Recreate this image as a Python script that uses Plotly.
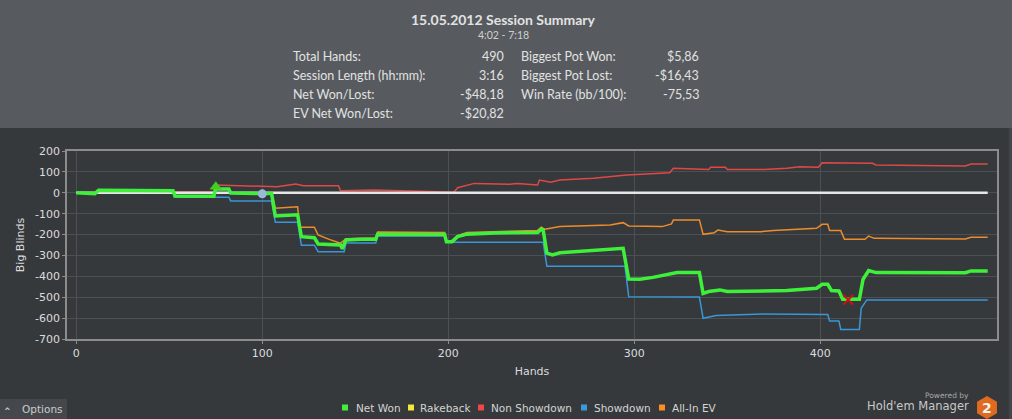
import math
import plotly.graph_objects as go

# ---------------- data ----------------
net_hands = [0, 10, 12, 52, 53, 74, 75, 76, 82, 83, 100, 105, 107, 119, 121, 128, 130, 142, 143, 145,
             153, 161, 162, 198, 199, 202, 205, 210, 225, 248, 250, 251, 253, 256, 260, 294, 297, 303,
             310, 321, 323, 335, 337, 340, 346, 350, 360, 382, 398, 401, 404, 406, 410, 412, 421, 423,
             426, 430, 478, 481, 490]
net_vals = [0, -4, 12, 10, -15, -17, 29, 18, 18, -1, -4, -4, -111, -105, -210, -215, -245, -250, -268, -226,
            -223, -222, -198, -200, -234, -234, -210, -198, -192, -190, -174, -178, -289, -297, -287, -266, -413, -414,
            -405, -385, -382, -382, -482, -473, -465, -473, -472, -468, -457, -438, -438, -468, -470, -510, -510, -414,
            -372, -382, -383, -374, -374]

sd_hands = [0, 10, 12, 52, 53, 82, 83, 105, 107, 119, 121, 128, 130, 144, 145, 161, 162, 198, 199, 251,
            253, 295, 297, 335, 337, 344, 369, 404, 405, 410, 411, 421, 422, 425, 490]
sd_vals = [0, -2, 3, 3, -21, -21, -39, -39, -141, -141, -251, -251, -282, -282, -240, -240, -207, -207, -237, -237,
           -352, -352, -498, -499, -601, -588, -580, -583, -614, -614, -654, -654, -553, -513, -513]

nsd_hands = [0, 52, 74, 75, 92, 100, 108, 118, 122, 141, 142, 160, 199, 203, 205, 214, 233, 237, 248, 249,
             255, 260, 278, 296, 319, 321, 340, 341, 349, 350, 370, 382, 389, 399, 401, 428, 430, 478, 481, 490]
nsd_vals = [0, 4, 5, 37, 32, 29, 29, 42, 34, 34, 10, 13, 5, 3, 24, 45, 41, 45, 37, 61,
            50, 61, 69, 85, 96, 117, 112, 122, 122, 112, 112, 117, 125, 122, 144, 141, 133, 128, 138, 138]

ev_hands = [0, 10, 12, 52, 53, 74, 75, 76, 82, 83, 105, 107, 119, 120, 128, 130, 136, 142, 145, 153,
            161, 162, 198, 199, 202, 205, 210, 248, 250, 252, 260, 287, 294, 297, 315, 320, 321, 335, 337, 343,
            345, 350, 368, 375, 389, 398, 401, 404, 405, 411, 413, 424, 426, 429, 478, 481, 490]
ev_vals = [0, -4, 12, 10, -15, -17, 29, 18, 18, -1, -4, -74, -67, -165, -165, -202, -223, -242, -220, -218,
           -216, -188, -190, -230, -230, -205, -190, -180, -165, -175, -162, -154, -143, -159, -162, -149, -130, -130, -199, -191,
           -178, -186, -186, -181, -175, -170, -151, -151, -181, -181, -223, -223, -207, -218, -221, -213, -213]

rakeback_hands = []
rakeback_vals = []

zero_hands = [0, 490]
zero_vals = [0, 0]

marker_tri = ([75], [29])
marker_circle = ([100], [-5])
marker_x = ([415], [-512])

y_ticks = [200, 100, 0, -100, -200, -300, -400, -500, -600, -700]
y_ticktext = ["200", "100", "0", "-100", "-200", "-300", "-400", "-500", "-600", "-700"]
x_ticks = [0, 100, 200, 300, 400]

title_text = "15.05.2012 Session Summary"
subtitle_text = "4:02 - 7:18"
stats_left = [("Total Hands:", "490"), ("Session Length (hh:mm):", "3:16"),
              ("Net Won/Lost:", "-$48,18"), ("EV Net Won/Lost:", "-$20,82")]
stats_right = [("Biggest Pot Won:", "$5,86"), ("Biggest Pot Lost:", "-$16,43"),
               ("Win Rate (bb/100):", "-75,53")]

legend_names = ["Net Won", "Rakeback", "Non Showdown", "Showdown", "All-In EV"]
legend_colors = ["#3ef03a", "#f2e83a", "#ee4848", "#3a9ae0", "#ff8c22"]

# ---------------- layout geometry helpers ----------------
W, H = 1012, 419
L, R, T, B = 67, 997, 151, 339


def px(x):
    return (x - L) / (R - L)


def py(y):
    return (B - y) / (B - T)


BG = "#35393c"
HEADER = "#575b5f"
TXT = "#e2e2e2"

fig = go.Figure()

fig.add_trace(go.Scatter(x=nsd_hands, y=nsd_vals, mode="lines", name="Non Showdown",
                         line=dict(color="#e04848", width=1.5), showlegend=False, hoverinfo="skip"))
fig.add_trace(go.Scatter(x=sd_hands, y=sd_vals, mode="lines", name="Showdown",
                         line=dict(color="#3a96d6", width=1.5), showlegend=False, hoverinfo="skip"))
fig.add_trace(go.Scatter(x=ev_hands, y=ev_vals, mode="lines", name="All-In EV",
                         line=dict(color="#ee8c2c", width=1.5), showlegend=False, hoverinfo="skip"))
fig.add_trace(go.Scatter(x=rakeback_hands, y=rakeback_vals, mode="lines", name="Rakeback",
                         line=dict(color="#f2e83a", width=1.5), showlegend=False, hoverinfo="skip"))
fig.add_trace(go.Scatter(x=zero_hands, y=zero_vals, mode="lines", line=dict(color="#e6e6e6", width=2.5),
                         showlegend=False, hoverinfo="skip"))
fig.add_trace(go.Scatter(x=net_hands, y=net_vals, mode="lines", name="Net Won",
                         line=dict(color="#3ef03a", width=3.5), showlegend=False, hoverinfo="skip"))
fig.add_trace(go.Scatter(x=marker_tri[0], y=marker_tri[1], mode="markers",
                         marker=dict(symbol="triangle-up", size=11, color="#44cc22"),
                         showlegend=False, hoverinfo="skip"))
fig.add_trace(go.Scatter(x=marker_circle[0], y=marker_circle[1], mode="markers",
                         marker=dict(symbol="circle", size=9, color="#9ab8d8"),
                         showlegend=False, hoverinfo="skip"))
fig.add_trace(go.Scatter(x=marker_x[0], y=marker_x[1], mode="markers",
                         marker=dict(symbol="x-thin", size=10, line=dict(color="#cc1111", width=2)),
                         showlegend=False, hoverinfo="skip"))

shapes = [
    dict(type="rect", xref="paper", yref="paper", x0=px(0), x1=px(W), y0=py(128), y1=py(0),
         fillcolor=HEADER, line=dict(width=0), layer="below"),
    dict(type="rect", xref="paper", yref="paper", x0=px(0), x1=px(67), y0=py(419), y1=py(399),
         fillcolor="#44484c", line=dict(width=0), layer="below"),
    dict(type="rect", xref="paper", yref="paper", x0=px(1009), x1=px(W), y0=py(419), y1=py(128),
         fillcolor="#42464a", line=dict(width=0), layer="below"),
]

# hexagon logo
cx, cy, r = 987, 407.5, 11.5
pts = []
for k in range(6):
    a = math.radians(90 + 60 * k)
    pts.append((px(cx + r * math.cos(a)), py(cy - r * math.sin(a))))
path = "M " + " L ".join(f"{x:.5f},{y:.5f}" for x, y in pts) + " Z"
shapes.append(dict(type="path", xref="paper", yref="paper", path=path, fillcolor="#e06a1e",
                   line=dict(width=0)))

annotations = [
    dict(text=f"<b>{title_text}</b>", x=px(503), y=py(19), xref="paper", yref="paper",
         showarrow=False, font=dict(family="Lato", size=14, color=TXT), xanchor="center", yanchor="middle"),
    dict(text=subtitle_text, x=px(503), y=py(35), xref="paper", yref="paper",
         showarrow=False, font=dict(family="Lato", size=10.5, color="#cfcfcf"), xanchor="center", yanchor="middle"),
]
rows_y = [56, 75, 94, 113]
for (lab, val), yy in zip(stats_left, rows_y):
    annotations.append(dict(text=lab, x=px(291), y=py(yy), xref="paper", yref="paper", showarrow=False,
                            font=dict(family="Lato", size=12.5, color=TXT), xanchor="left", yanchor="middle"))
    annotations.append(dict(text=val, x=px(506), y=py(yy), xref="paper", yref="paper", showarrow=False,
                            font=dict(family="Lato", size=12.5, color=TXT), xanchor="right", yanchor="middle"))
for (lab, val), yy in zip(stats_right, rows_y):
    annotations.append(dict(text=lab, x=px(519), y=py(yy), xref="paper", yref="paper", showarrow=False,
                            font=dict(family="Lato", size=12.5, color=TXT), xanchor="left", yanchor="middle"))
    annotations.append(dict(text=val, x=px(701), y=py(yy), xref="paper", yref="paper", showarrow=False,
                            font=dict(family="Lato", size=12.5, color=TXT), xanchor="right", yanchor="middle"))

# legend (square swatch + label), laid out like the original chart's legend row
legend_swatch_x = [342, 408, 478, 581, 659]
legend_text_x = [354, 418, 489, 592, 670]
legend_y = 407.5
for name, col, sx, tx in zip(legend_names, legend_colors, legend_swatch_x, legend_text_x):
    shapes.append(dict(type="rect", xref="paper", yref="paper", x0=px(sx), x1=px(sx + 6),
                       y0=py(legend_y + 3), y1=py(legend_y - 3), fillcolor=col, line=dict(width=0)))
    annotations.append(dict(text=name, x=px(tx), y=py(legend_y), xref="paper", yref="paper", showarrow=False,
                            font=dict(family="DejaVu Sans", size=10.5, color="#d4d4d4"),
                            xanchor="left", yanchor="middle"))

annotations += [
    dict(text="<b>^</b>", x=px(7), y=py(411), xref="paper", yref="paper", showarrow=False,
         font=dict(family="DejaVu Sans", size=8, color="#cccccc"), xanchor="center", yanchor="middle"),
    dict(text="Options", x=px(20), y=py(409), xref="paper", yref="paper", showarrow=False,
         font=dict(family="DejaVu Sans", size=10.5, color="#cccccc"), xanchor="left", yanchor="middle"),
    dict(text="Powered by", x=px(971), y=py(395), xref="paper", yref="paper", showarrow=False,
         font=dict(family="DejaVu Sans", size=7.5, color="#a8a8a8"), xanchor="right", yanchor="middle"),
    dict(text="Hold'em Manager", x=px(971), y=py(406), xref="paper", yref="paper", showarrow=False,
         font=dict(family="DejaVu Sans", size=11.5, color="#c8c8c8"), xanchor="right", yanchor="middle"),
    dict(text="<b>2</b>", x=px(987), y=py(407.5), xref="paper", yref="paper", showarrow=False,
         font=dict(family="DejaVu Sans", size=14, color="#f4f4f4"), xanchor="center", yanchor="middle"),
]

axis_font = dict(family="DejaVu Sans", size=11, color="#dcdcdc")

fig.update_layout(
    width=W, height=H,
    margin=dict(l=L, r=W - R, t=T, b=H - B, autoexpand=False),
    paper_bgcolor=BG, plot_bgcolor=BG,
    shapes=shapes, annotations=annotations,
    showlegend=False,
    xaxis=dict(range=[-5, 495], tickvals=x_ticks, showgrid=True, gridcolor="#4c5054", gridwidth=1,
               zeroline=False, showline=True, mirror=True, linecolor="#8c8c8c", linewidth=1.5,
               ticks="outside", ticklen=3, tickcolor="#8c8c8c", tickfont=axis_font,
               title=dict(text="Hands", font=axis_font, standoff=8)),
    yaxis=dict(range=[-700, 200], tickvals=y_ticks, ticktext=y_ticktext, showgrid=True,
               gridcolor="#4c5054", gridwidth=1, zeroline=False, showline=True, mirror=True,
               linecolor="#8c8c8c", linewidth=1.5, ticks="outside", ticklen=3, tickcolor="#8c8c8c",
               tickfont=axis_font, title=dict(text="Big Blinds", font=axis_font, standoff=8)),
)

fig.write_html("out.html", config={"displayModeBar": False},
               post_script="document.body.style.margin='0';document.body.style.overflow='hidden';"
                           "document.documentElement.style.background='%s';" % BG)
